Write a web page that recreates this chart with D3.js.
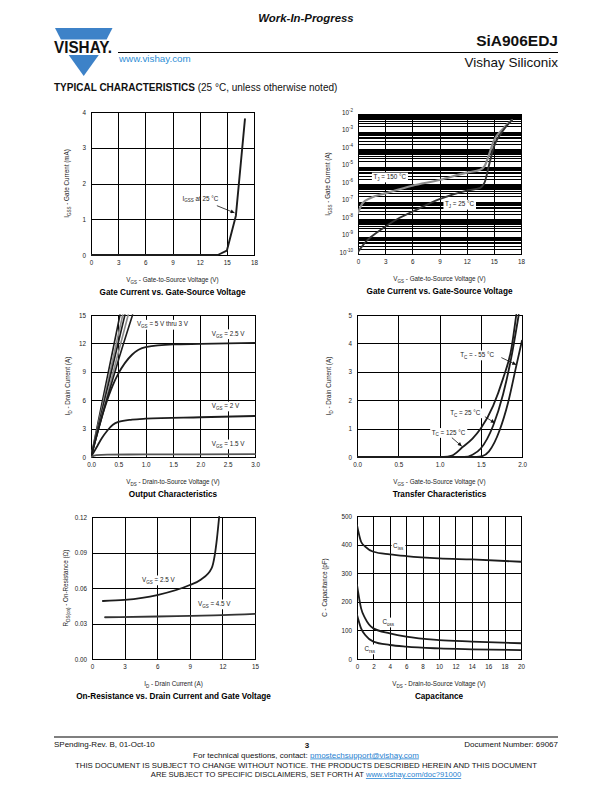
<!DOCTYPE html>
<html><head><meta charset="utf-8">
<script src="https://cdn.jsdelivr.net/npm/d3@7"></script>
<style>html,body{margin:0;padding:0;background:#fff;}svg{display:block;}</style>
</head><body>
<svg id="page" width="612" height="792"></svg>
<script>
// ================= DATA =================
// Gate current (linear, mA) vs VGS
const gateVgs = [0, 14, 15, 16, 17];
const gateIgssmA = [0, 0, 0.12, 1.1, 3.8];
// Gate current (log, A) vs VGS
const logVgs150 = [0, 0.5, 1.5, 3, 6, 9, 12, 13.5, 14, 14.5, 15, 16, 17];
const logIgss150 = [2.2e-8, 7.9e-8, 1.7e-7, 2.9e-7, 8e-7, 1.7e-6, 4.5e-6, 6.5e-6, 1.1e-5, 5.3e-5, 3e-4, 1.4e-3, 4.5e-3];
const logVgs25 = [0, 1, 1.5, 3, 4.5, 6, 9, 12, 13.5, 14, 14.5, 15, 16, 17];
const logIgss25 = [1.3e-10, 6e-10, 1e-9, 3.6e-9, 1.1e-8, 2.6e-8, 1.35e-7, 4.2e-7, 6.1e-7, 1.3e-6, 1.4e-5, 1.3e-4, 1.1e-3, 4.5e-3];
// Output characteristics
const out5V_vds = [0, 0.53],  out5V_id = [0, 15];
const out45V_vds = [0, 0.58], out45V_id = [0, 15];
const out4V_vds = [0, 0.62],  out4V_id = [0, 15];
const out35V_vds = [0, 0.68], out35V_id = [0, 15];
const out3V_vds = [0, 0.3, 0.5, 0.76], out3V_id = [0, 6.3, 10.2, 15];
const out25V_vds = [0, 0.1, 0.25, 0.4, 0.5, 0.75, 1.0, 1.5, 2.0, 3.0];
const out25V_id  = [0, 2.2, 5.2, 7.6, 8.8, 10.8, 11.6, 11.9, 11.95, 12.05];
const out2V_vds = [0, 0.1, 0.2, 0.3, 0.4, 0.5, 0.75, 1.0, 2.0, 3.0];
const out2V_id  = [0, 1.0, 2.0, 2.8, 3.4, 3.7, 3.95, 4.05, 4.2, 4.33];
const out15V_vds = [0, 0.1, 0.3, 1.0, 3.0];
const out15V_id  = [0, 0.2, 0.25, 0.27, 0.3];
// Transfer characteristics
const tr125_vgs = [0, 1.05, 1.15, 1.28, 1.4, 1.5, 1.65, 1.77, 1.87, 1.93];
const tr125_id  = [0, 0, 0.05, 0.35, 0.65, 1.0, 1.8, 2.76, 3.8, 5];
const tr25_vgs = [0, 1.3, 1.4, 1.5, 1.65, 1.77, 1.87, 1.96];
const tr25_id  = [0, 0, 0.08, 0.3, 1.1, 2.2, 3.5, 5];
const trm55_vgs = [0, 1.45, 1.52, 1.6, 1.73, 1.83, 1.93, 2.0];
const trm55_id  = [0, 0, 0.03, 0.2, 0.95, 1.9, 3.2, 4.1];
// On-resistance
const rds25_id = [1, 3, 6, 9, 10, 11, 11.3, 11.5, 11.7];
const rds25_r  = [0.049, 0.0499, 0.054, 0.0625, 0.067, 0.0765, 0.088, 0.102, 0.12];
const rds45_id = [1.2, 6, 9, 12, 15];
const rds45_r  = [0.0353, 0.0359, 0.0365, 0.037, 0.0381];
// Capacitance
const capVds = [0, 0.5, 1, 2, 4, 6, 10, 14, 20];
const cissPF = [468, 410, 393, 375, 366, 360, 352, 348, 340];
const cossPF = [259, 177, 142, 107, 90, 78, 66, 61, 55];
const crssPF = [155, 107, 84, 61, 49, 43, 37, 34, 31];
// Tick labels
const ticksGateV = [0, 3, 6, 9, 12, 15, 18];
const ticksGatemA = [0, 1, 2, 3, 4];
const ticksOutV = [0, 0.5, 1.0, 1.5, 2.0, 2.5, 3.0];
const ticksOutA = [0, 3, 6, 9, 12, 15];
const ticksTrV = [0, 0.5, 1.0, 1.5, 2.0];
const ticksTrA = [0, 1, 2, 3, 4, 5];
const ticksRdsA = [0, 3, 6, 9, 12, 15];
const ticksRdsR = [0, 0.03, 0.06, 0.09, 0.12];
const ticksCapV = [0, 2, 4, 6, 8, 10, 12, 14, 16, 18, 20];
const ticksCapC = [0, 100, 200, 300, 400, 500];

// ================= DRAWING =================
const FONT = "'Liberation Sans', Arial, Helvetica, sans-serif";
const svg = d3.select('#page');
svg.append('rect').attr('width', 612).attr('height', 792).attr('fill', '#fff');

// rich text: _{sub} and ^{sup}
function rich(t, s, fs) {
  const parts = s.split(/([_^]\{[^}]*\})/);
  let shift = 0;
  parts.forEach(p => {
    if (!p) return;
    const m = p.match(/^([_^])\{([^}]*)\}$/);
    if (m) {
      const d = m[1] === '_' ? 0.28 * fs : -0.42 * fs;
      t.append('tspan').attr('dy', d - shift).attr('font-size', fs * 0.72).text(m[2]);
      shift = d;
    } else {
      t.append('tspan').attr('dy', -shift).text(p);
      shift = 0;
    }
  });
  return t;
}
function txt(x, y, s, o = {}) {
  const fs = o.size || 6.3;
  const t = svg.append('text').attr('x', x).attr('y', y)
    .attr('font-family', FONT).attr('font-size', fs)
    .attr('fill', o.fill || '#222')
    .attr('text-anchor', o.anchor || 'start')
    .attr('font-weight', o.weight || 'normal')
    .attr('font-style', o.style || 'normal');
  if (o.rotate) t.attr('transform', `rotate(${o.rotate},${x},${y})`);
  rich(t, s, fs);
  if (o.bg) {
    const b = t.node().getBBox();
    svg.insert('rect', () => t.node()).attr('x', b.x - 1.5).attr('y', b.y - 0.5)
      .attr('width', b.width + 3).attr('height', b.height + 1).attr('fill', '#fff');
  }
  return t;
}

// arrow marker
svg.append('defs').append('marker').attr('id', 'ah')
  .attr('viewBox', '0 0 10 10').attr('refX', 10).attr('refY', 5)
  .attr('markerWidth', 5).attr('markerHeight', 4).attr('markerUnits', 'userSpaceOnUse')
  .attr('orient', 'auto')
  .append('path').attr('d', 'M0,0L10,5L0,10z').attr('fill', '#111');

let clipId = 0;
function panel(o) {
  const x = d3.scaleLinear().domain(o.xDomain).range([o.left, o.right]);
  const y = (o.yLog ? d3.scaleLog() : d3.scaleLinear()).domain(o.yDomain).range([o.bottom, o.top]);
  const W = o.right - o.left, H = o.bottom - o.top;
  const g = svg.append('g');
  const gx = g.append('g').attr('transform', `translate(0,${o.bottom})`)
    .call(d3.axisBottom(x).tickValues(o.xTicks).tickSize(-H).tickPadding(5.5).tickFormat(o.xFormat));
  const yTicks = o.yLog ? y.ticks() : o.yTicks;
  const gy = g.append('g').attr('transform', `translate(${o.left},0)`)
    .call(d3.axisLeft(y).tickValues(yTicks).tickSize(-W).tickPadding(5).tickFormat(o.yFormat));
  [gx, gy].forEach(a => {
    a.select('.domain').remove();
    a.selectAll('line').attr('stroke', '#000').attr('stroke-width', 1).attr('shape-rendering', 'crispEdges');
    a.selectAll('text').attr('font-family', FONT).attr('font-size', 6.3).attr('fill', '#222');
  });
  if (o.yLog) {
    gy.selectAll('text').each(function () {
      const s = d3.select(this).text();
      d3.select(this).text(null);
      if (s) rich(d3.select(this), '10^{' + s + '}', 6.3);
    });
  }
  g.append('rect').attr('x', o.left + 0.5).attr('y', o.top + 0.5).attr('width', W).attr('height', H)
    .attr('fill', 'none').attr('stroke', '#000').attr('stroke-width', 1).attr('shape-rendering', 'crispEdges');
  const id = 'clip' + (clipId++);
  svg.select('defs').append('clipPath').attr('id', id).append('rect')
    .attr('x', o.left).attr('y', o.top - 1).attr('width', W + 1).attr('height', H + 2);
  const cg = svg.append('g').attr('clip-path', `url(#${id})`);
  // titles
  const cx = (o.left + o.right) / 2, cy = (o.top + o.bottom) / 2;
  txt(cx, o.bottom + 27, o.xTitle, { anchor: 'middle' });
  txt(o.yTitleX, cy, o.yTitle, { anchor: 'middle', rotate: -90 });
  txt(cx, o.bottom + 39.5, o.title, { anchor: 'middle', weight: 'bold', size: 8.2, fill: '#000' });
  const P = { x, y, cg };
  P.curve = (xs, ys, color, w, c) => {
    const pts = xs.map((v, i) => [v, ys[i]]);
    cg.append('path').datum(pts)
      .attr('d', d3.line().x(d => x(d[0])).y(d => y(d[1])).curve(c || d3.curveMonotoneX))
      .attr('fill', 'none').attr('stroke', color).attr('stroke-width', w || 1.7)
      .attr('stroke-linejoin', 'round').attr('stroke-linecap', 'round');
  };
  P.label = (xv, yv, s, bg) => txt(x(xv), y(yv), s, { bg });
  P.arrow = (x1, y1, x2, y2) => svg.append('line')
    .attr('x1', x(x1)).attr('y1', y(y1)).attr('x2', x(x2)).attr('y2', y(y2))
    .attr('stroke', '#111').attr('stroke-width', 0.8).attr('marker-end', 'url(#ah)');
  return P;
}
const BLK = '#1c1c1c', GRY = '#8c8c8c';

// ---- Chart A: Gate current linear ----
const A = panel({ left: 91, right: 254, top: 112, bottom: 255, xDomain: [0, 18], yDomain: [0, 4],
  xTicks: ticksGateV, yTicks: ticksGatemA, xFormat: d3.format('d'), yFormat: d3.format('d'),
  xTitle: 'V_{GS} - Gate-to-Source Voltage (V)', yTitle: 'I_{GSS} - Gate Current (mA)', yTitleX: 69,
  title: 'Gate Current vs. Gate-Source Voltage' });
A.curve(gateVgs, gateIgssmA, BLK, 1.9, d3.curveLinear);
A.label(10.1, 1.52, 'I_{GSS} at 25 °C');
A.arrow(13.9, 1.38, 15.85, 1.18);

// ---- Chart B: Gate current log ----
const B = panel({ left: 358, right: 521, top: 114, bottom: 254, xDomain: [0, 18], yDomain: [1e-10, 1e-2], yLog: true,
  xTicks: ticksGateV, xFormat: d3.format('d'),
  yFormat: d => { const l = Math.log10(d); return Math.abs(l - Math.round(l)) < 1e-6 ? String(Math.round(l)) : ''; },
  xTitle: 'V_{GS} - Gate-to-Source Voltage (V)', yTitle: 'I_{GSS} - Gate Current (A)', yTitleX: 330,
  title: 'Gate Current vs. Gate-Source Voltage' });
B.curve(logVgs150, logIgss150, GRY, 2.2);
B.curve(logVgs25, logIgss25, '#333', 1.9);
B.label(1.7, 1.9e-6, 'T_{J} = 150 °C', true);
B.label(9.6, 5.3e-8, 'T_{J} = 25 °C', true);

// ---- Chart C: Output characteristics ----
const C = panel({ left: 91, right: 255, top: 315, bottom: 457, xDomain: [0, 3], yDomain: [0, 15],
  xTicks: ticksOutV, yTicks: ticksOutA, xFormat: d3.format('.1f'), yFormat: d3.format('d'),
  xTitle: 'V_{DS} - Drain-to-Source Voltage (V)', yTitle: 'I_{D} - Drain Current (A)', yTitleX: 70,
  title: 'Output Characteristics' });
C.curve(out5V_vds, out5V_id, BLK, 1.6, d3.curveLinear);
C.curve(out45V_vds, out45V_id, GRY, 1.6, d3.curveLinear);
C.curve(out4V_vds, out4V_id, BLK, 1.6, d3.curveLinear);
C.curve(out35V_vds, out35V_id, GRY, 1.6, d3.curveLinear);
C.curve(out3V_vds, out3V_id, BLK, 1.6);
C.curve(out25V_vds, out25V_id, BLK, 1.8);
C.curve(out2V_vds, out2V_id, BLK, 1.8);
C.curve(out15V_vds, out15V_id, '#555', 1.8);
C.label(0.84, 13.8, 'V_{GS} = 5 V thru 3 V', true);
C.label(2.21, 12.8, 'V_{GS} = 2.5 V', true);
C.label(2.21, 5.17, 'V_{GS} = 2 V', true);
C.label(2.21, 1.16, 'V_{GS} = 1.5 V', true);

// ---- Chart D: Transfer ----
const D = panel({ left: 357, right: 522, top: 315, bottom: 457, xDomain: [0, 2], yDomain: [0, 5],
  xTicks: ticksTrV, yTicks: ticksTrA, xFormat: d3.format('.1f'), yFormat: d3.format('d'),
  xTitle: 'V_{GS} - Gate-to-Source Voltage (V)', yTitle: 'I_{D} - Drain Current (A)', yTitleX: 331,
  title: 'Transfer Characteristics' });
D.curve(tr125_vgs, tr125_id, BLK, 1.8);
D.curve(tr25_vgs, tr25_id, BLK, 1.8);
D.curve(trm55_vgs, trm55_id, BLK, 1.8);
D.label(1.25, 3.52, 'T_{C} = - 55 °C', true);
D.arrow(1.75, 3.5, 1.93, 3.25);
D.label(1.13, 1.48, 'T_{C} = 25 °C', true);
D.arrow(1.55, 1.42, 1.67, 1.2);
D.label(0.905, 0.79, 'T_{C} = 125 °C', true);
D.arrow(1.15, 0.68, 1.27, 0.38);

// ---- Chart E: On-resistance ----
const E = panel({ left: 92, right: 255, top: 517, bottom: 659, xDomain: [0, 15], yDomain: [0, 0.12],
  xTicks: ticksRdsA, yTicks: ticksRdsR, xFormat: d3.format('d'), yFormat: d3.format('.2f'),
  xTitle: 'I_{D} - Drain Current (A)', yTitle: 'R_{DS(on)} - On-Resistance (Ω)', yTitleX: 68,
  title: 'On-Resistance vs. Drain Current and Gate Voltage' });
E.curve(rds25_id, rds25_r, BLK, 1.8);
E.curve(rds45_id, rds45_r, '#333', 1.8);
E.label(4.6, 0.0651, 'V_{GS} = 2.5 V', true);
E.label(9.75, 0.0448, 'V_{GS} = 4.5 V', true);

// ---- Chart F: Capacitance ----
const F = panel({ left: 357, right: 521, top: 516, bottom: 659, xDomain: [0, 20], yDomain: [0, 500],
  xTicks: ticksCapV, yTicks: ticksCapC, xFormat: d3.format('d'), yFormat: d3.format('d'),
  xTitle: 'V_{DS} - Drain-to-Source Voltage (V)', yTitle: 'C - Capacitance (pF)', yTitleX: 327,
  title: 'Capacitance' });
F.curve(capVds, cissPF, BLK, 1.8);
F.curve(capVds, cossPF, BLK, 1.8);
F.curve(capVds, crssPF, BLK, 1.8);
F.label(4.4, 388, 'C_{iss}', true);
F.label(3.1, 122, 'C_{oss}', true);
F.label(0.9, 28, 'C_{rss}', true);

// ================= HEADER =================
const BLUE = '#3d82c8';
svg.append('path').attr('d', 'M55,28 L112.5,28 L106.6,39.5 L60.9,39.5 Z').attr('fill', BLUE);
svg.append('path').attr('d', 'M68.7,55 L98.8,55 L83.7,76 Z').attr('fill', BLUE);
svg.append('text').attr('x', 54).attr('y', 52.5).attr('font-family', FONT).attr('font-weight', 'bold')
  .attr('font-size', 16).attr('textLength', 58).attr('lengthAdjust', 'spacingAndGlyphs').attr('fill', '#111').text('VISHAY.');
txt(306, 21.5, 'Work-In-Progress', { anchor: 'middle', weight: 'bold', style: 'italic', size: 11.4, fill: '#111' });
txt(558, 46, 'SiA906EDJ', { anchor: 'end', weight: 'bold', size: 15.5, fill: '#111' });
svg.append('line').attr('x1', 118).attr('x2', 558).attr('y1', 52.5).attr('y2', 52.5).attr('stroke', '#000').attr('stroke-width', 1.2);
txt(119, 62, 'www.vishay.com', { size: 9.8, fill: '#2e8fd6' });
txt(558, 66.5, 'Vishay Siliconix', { anchor: 'end', size: 13.5, fill: '#111' });
const tc = svg.append('text').attr('x', 54).attr('y', 91).attr('font-family', FONT).attr('font-size', 10).attr('fill', '#111');
tc.append('tspan').attr('font-weight', 'bold').text('TYPICAL CHARACTERISTICS');
tc.append('tspan').text(' (25 °C, unless otherwise noted)');

// ================= FOOTER =================
svg.append('line').attr('x1', 54).attr('x2', 558).attr('y1', 737).attr('y2', 737).attr('stroke', '#000').attr('stroke-width', 1.2);
txt(54, 747, 'SPending-Rev. B, 01-Oct-10', { size: 8, fill: '#111' });
txt(307, 747.5, '3', { anchor: 'middle', size: 8, weight: 'bold', fill: '#111' });
txt(558, 747, 'Document Number: 69067', { anchor: 'end', size: 8, fill: '#111' });
const f1 = svg.append('text').attr('x', 306).attr('y', 757.5).attr('text-anchor', 'middle')
  .attr('font-family', FONT).attr('font-size', 8).attr('fill', '#111');
f1.append('tspan').text('For technical questions, contact: ');
f1.append('tspan').attr('fill', '#1f7fd0').attr('text-decoration', 'underline').text('pmostechsupport@vishay.com');
svg.append('text').attr('x', 306).attr('y', 767.5).attr('text-anchor', 'middle')
  .attr('font-family', FONT).attr('font-size', 7.6).attr('fill', '#111')
  .attr('textLength', 462).attr('lengthAdjust', 'spacingAndGlyphs')
  .text('THIS DOCUMENT IS SUBJECT TO CHANGE WITHOUT NOTICE. THE PRODUCTS DESCRIBED HEREIN AND THIS DOCUMENT');
const f3 = svg.append('text').attr('x', 306).attr('y', 777).attr('text-anchor', 'middle')
  .attr('font-family', FONT).attr('font-size', 7.6).attr('fill', '#111');
f3.append('tspan').text('ARE SUBJECT TO SPECIFIC DISCLAIMERS, SET FORTH AT ');
f3.append('tspan').attr('fill', '#1f7fd0').attr('text-decoration', 'underline').text('www.vishay.com/doc?91000');
</script>
</body></html>
